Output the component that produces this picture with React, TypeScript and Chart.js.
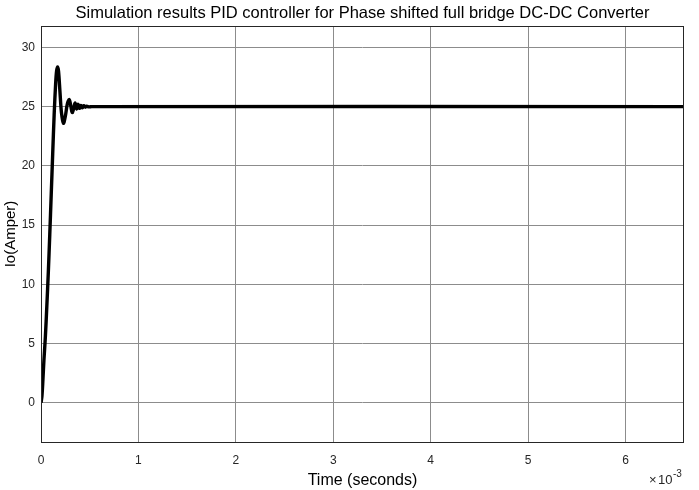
import React, { useEffect, useRef } from "react";
import { Chart, registerables } from "chart.js";

Chart.register(...registerables);

// time in units of 1e-3 s
const timeMs: number[] = [
  0, 0.01, 0.02, 0.03, 0.045, 0.06, 0.075, 0.09, 0.105, 0.12, 0.135, 0.15, 0.16, 0.17, 0.18,
  0.195, 0.21, 0.23, 0.25, 0.27, 0.29, 0.305, 0.32, 0.335, 0.35, 0.365, 0.38, 0.395, 0.41,
  0.425, 0.44, 0.455, 0.47, 0.49, 0.52, 6.6,
];
const currentIo: number[] = [
  0, 0.6, 2.0, 3.6, 5.6, 8.2, 11.0, 14.2, 17.6, 21.0, 24.3, 26.9, 28.0, 28.35, 28.0,
  26.2, 24.5, 23.6, 24.2, 25.2, 25.6, 25.1, 24.5, 24.8, 25.3, 24.8, 25.2, 24.85, 25.1,
  24.9, 25.07, 24.95, 25.04, 24.98, 25.0, 25.0,
];
const xTicks: number[] = [0, 1, 2, 3, 4, 5, 6];
const yTicks: number[] = [0, 5, 10, 15, 20, 25, 30];

const titleText = "Simulation results PID controller for Phase shifted full bridge DC-DC Converter";
const xTitle = "Time (seconds)";
const yTitle = "Io(Amper)";
const FONT = "'Liberation Sans', Arial, sans-serif";

export default function App() {
  const ref = useRef<HTMLCanvasElement | null>(null);
  useEffect(() => {
    document.body.style.margin = "0";
    const ctx = ref.current!;
    const framePlugin = {
      id: "frame",
      afterDraw(chart: any) {
        const { ctx, chartArea } = chart;
        ctx.save();
        ctx.strokeStyle = "#262626";
        ctx.lineWidth = 1;
        ctx.strokeRect(chartArea.left + 0.5, chartArea.top + 0.5, chartArea.right - chartArea.left - 1, chartArea.bottom - chartArea.top);
        // title
        ctx.fillStyle = "#000000";
        ctx.font = `16.5px ${FONT}`;
        ctx.textAlign = "center";
        ctx.textBaseline = "middle";
        ctx.fillText(titleText, (chartArea.left + chartArea.right) / 2, 13);
        // exponent
        ctx.fillStyle = "#262626";
        ctx.font = `13px ${FONT}`;
        ctx.textBaseline = "alphabetic";
        ctx.textAlign = "left";
        const bx = chartArea.right - 35;
        const by = chartArea.bottom + 42;
        ctx.fillText("\u00d7", bx, by);
        ctx.fillText("10", bx + 9, by);
        ctx.font = `10px ${FONT}`;
        ctx.fillText("-3", bx + 24, by - 7);
        ctx.restore();
      },
    };
    const chart = new Chart(ctx, {
      type: "line",
      data: {
        datasets: [
          {
            data: timeMs.map((t, i) => ({ x: t, y: currentIo[i] })),
            borderColor: "#000000",
            borderWidth: 3.4,
            pointRadius: 0,
            tension: 0.35,
            fill: false,
          },
        ],
      },
      options: {
        animation: false,
        responsive: false,
        devicePixelRatio: 1,
        layout: { padding: { left: 0, right: 15, top: 26, bottom: 0 } },
        plugins: {
          legend: { display: false },
          tooltip: { enabled: false },
          title: { display: false },
        },
        scales: {
          x: {
            type: "linear",
            min: 0,
            max: 6.6,
            afterBuildTicks: (s: any) => {
              s.ticks = xTicks.map((v) => ({ value: v }));
            },
            afterFit: (s: any) => {
              s.height = 48;
            },
            grid: { color: "#8c8c8c", lineWidth: 1, drawTicks: false },
            border: { display: false },
            ticks: {
              color: "#262626",
              font: { family: FONT, size: 12 },
              padding: 11,
              maxRotation: 0,
            },
            title: {
              display: true,
              text: xTitle,
              color: "#000000",
              font: { family: FONT, size: 16 },
              padding: { top: 2, bottom: 0 },
            },
          },
          y: {
            type: "linear",
            min: -3.3,
            max: 31.8,
            afterBuildTicks: (s: any) => {
              s.ticks = yTicks.map((v) => ({ value: v }));
            },
            afterFit: (s: any) => {
              s.width = 41;
            },
            grid: { color: "#8c8c8c", lineWidth: 1, drawTicks: false },
            border: { display: false },
            ticks: {
              color: "#262626",
              font: { family: FONT, size: 12 },
              padding: 6,
            },
            title: {
              display: true,
              text: yTitle,
              color: "#000000",
              font: { family: FONT, size: 15 },
              padding: { top: 2, bottom: 0 },
            },
          },
        },
      },
      plugins: [framePlugin],
    });
    return () => chart.destroy();
  }, []);
  return (
    <div style={{ width: 699, height: 490, background: "#ffffff" }}>
      <canvas ref={ref} width={699} height={490} style={{ display: "block", width: 699, height: 490 }} />
    </div>
  );
}
